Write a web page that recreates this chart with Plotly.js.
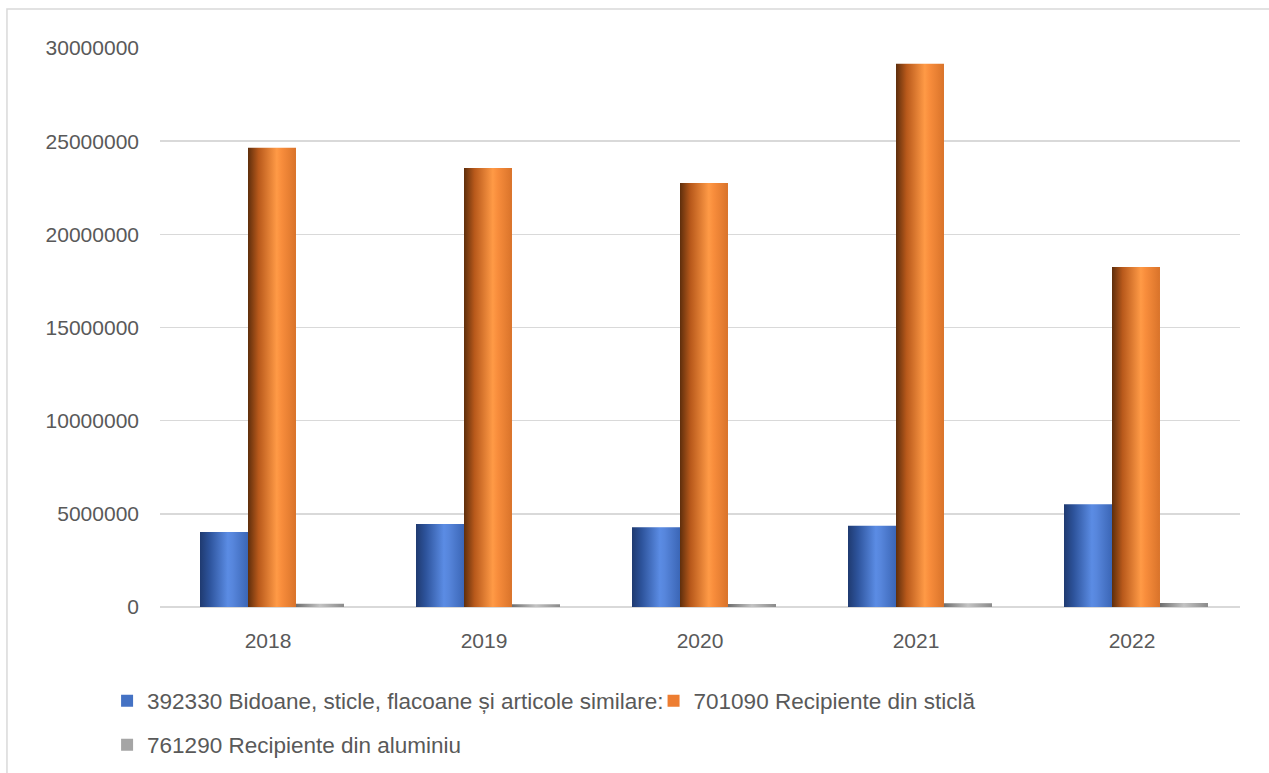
<!DOCTYPE html>
<html>
<head>
<meta charset="utf-8">
<script src="https://cdn.plot.ly/plotly-3.0.1.min.js"></script>
<style>
  html, body { margin: 0; padding: 0; background: #fff; }
  #chart { width: 1269px; height: 773px; }
</style>
</head>
<body>
<div id="chart"></div>
<script>
const years = ['2018', '2019', '2020', '2021', '2022'];
const seriesNames = [
  '392330 Bidoane, sticle, flacoane și articole similare:',
  '701090 Recipiente din sticlă',
  '761290 Recipiente din aluminiu'
];
const bidoane = [4030000, 4460000, 4280000, 4360000, 5510000];
const sticla = [24640000, 23560000, 22760000, 29150000, 18250000];
const aluminiu = [180000, 150000, 160000, 200000, 220000];
const yTicks = [0, 5000000, 10000000, 15000000, 20000000, 25000000, 30000000];

const colors = ['#4472C4', '#ED7D31', '#A5A5A5'];
const font = 'Liberation Sans, Arial, sans-serif';
const barWidth = 0.2222;
const barOffsets = [-0.3148, -0.0926, 0.1296];

const traces = [
  { type: 'bar', name: seriesNames[0], x: years, y: bidoane, marker: { color: colors[0] }, legend: 'legend',
    width: barWidth, offset: barOffsets[0] },
  { type: 'bar', name: seriesNames[1], x: years, y: sticla, marker: { color: colors[1] }, legend: 'legend2',
    width: barWidth, offset: barOffsets[1] },
  { type: 'bar', name: seriesNames[2], x: years, y: aluminiu, marker: { color: colors[2] }, legend: 'legend3',
    width: barWidth, offset: barOffsets[2] }
];

const legendBase = { orientation: 'h', xanchor: 'left', yanchor: 'middle', yref: 'container', bgcolor: 'rgba(0,0,0,0)',
  font: { family: font, size: 22.5, color: '#595959' }, itemwidth: 30 };

const layout = {
  width: 1269, height: 773,
  margin: { l: 160, r: 29, t: 48, b: 166 },
  paper_bgcolor: '#ffffff', plot_bgcolor: '#ffffff',
  font: { family: font, size: 21, color: '#595959' },
  barmode: 'group', bargap: 0.333, bargroupgap: 0,
  hovermode: false,
  xaxis: { type: 'category', showgrid: false, showline: false, ticks: '', ticklabelstandoff: 19,
    tickfont: { family: font, size: 21, color: '#595959' } },
  yaxis: { range: [0, 30000000], tickvals: yTicks, tickformat: 'd', showgrid: true, gridcolor: '#d9d9d9', gridwidth: 1.5,
    zeroline: true, zerolinecolor: '#d9d9d9', zerolinewidth: 1.5, showline: false, ticks: '', ticklabelstandoff: 20,
    tickfont: { family: font, size: 21, color: '#595959' } },
  legend: Object.assign({}, legendBase, { x: -0.049, y: 0.0931 }),
  legend2: Object.assign({}, legendBase, { x: 0.457, y: 0.0931 }),
  legend3: Object.assign({}, legendBase, { x: -0.049, y: 0.0362 }),
  showlegend: true,
  shapes: [
    { type: 'rect', xref: 'paper', yref: 'paper', x0: -0.1417, x1: 1.2, y0: -0.5, y1: 1.0698,
      line: { color: '#d9d9d9', width: 1.5 }, fillcolor: 'rgba(0,0,0,0)', layer: 'below' }
  ]
};

const gradients = [
  { id: 'gBlue', stops: [[0, '#1f3a70'], [0.2, '#2d539b'], [0.58, '#5b8ce4'], [0.68, '#5786dc'], [1, '#3b66b6']] },
  { id: 'gOrange', stops: [[0, '#5e2e0c'], [0.22, '#b8591b'], [0.6, '#ff9a46'], [0.7, '#f88d3c'], [1, '#d9732a']] },
  { id: 'gGray', stops: [[0, '#6e6e6e'], [0.5, '#c4c4c4'], [1, '#8a8a8a']] }
];

Plotly.newPlot('chart', traces, layout, { staticPlot: true }).then(function (gd) {
  const svg = gd.querySelector('svg.main-svg');
  const ns = 'http://www.w3.org/2000/svg';
  let defs = svg.querySelector('defs');
  if (!defs) { defs = document.createElementNS(ns, 'defs'); svg.insertBefore(defs, svg.firstChild); }
  gradients.forEach(function (g) {
    const lg = document.createElementNS(ns, 'linearGradient');
    lg.setAttribute('id', g.id);
    lg.setAttribute('x1', '0'); lg.setAttribute('y1', '0');
    lg.setAttribute('x2', '1'); lg.setAttribute('y2', '0');
    g.stops.forEach(function (s) {
      const st = document.createElementNS(ns, 'stop');
      st.setAttribute('offset', s[0]);
      st.setAttribute('stop-color', s[1]);
      lg.appendChild(st);
    });
    defs.appendChild(lg);
  });
  const groups = gd.querySelectorAll('.barlayer .trace.bars');
  groups.forEach(function (grp, i) {
    grp.querySelectorAll('.point path').forEach(function (p) {
      p.style.fill = 'url(#' + gradients[i].id + ')';
    });
  });
});
</script>
</body>
</html>
